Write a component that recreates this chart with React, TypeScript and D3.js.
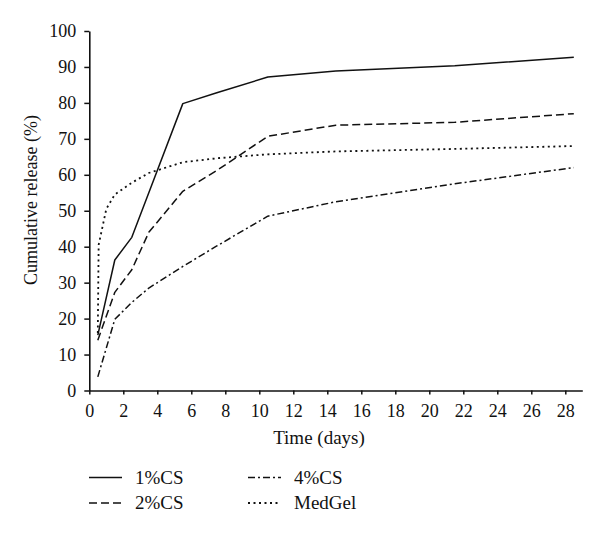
import React, { useEffect, useRef } from "react";
import * as d3 from "d3";

const days = [0.5, 1.5, 2.5, 3.5, 5.5, 7.5, 10.5, 14.5, 21.5, 28.5];
const cs1 = [15.4, 36.3, 42.6, 55.0, 79.8, 82.8, 87.2, 88.9, 90.3, 92.7];
const cs2 = [14.0, 27.3, 33.6, 44.0, 55.4, 61.2, 70.7, 73.8, 74.6, 77.0];
const cs4 = [3.8, 19.8, 24.5, 28.5, 34.5, 40.2, 48.5, 52.5, 57.5, 62.0];
const medDays = [0.5, 0.55, 1.0, 1.5, 2.5, 3.5, 5.5, 7.5, 10.5, 14.5, 21.5, 28.5];
const medGel = [16.0, 40.5, 50.5, 54.5, 57.8, 60.5, 63.5, 64.6, 65.7, 66.5, 67.2, 68.0];

const xTicks = d3.range(0, 29, 2);
const yTicks = d3.range(0, 101, 10);
const seriesNames = ["1%CS", "2%CS", "4%CS", "MedGel"];
const dashes = ["none", "8,4", "7,3,2,3", "2,3.5"];

const FONT = "'Liberation Serif', 'DejaVu Serif', serif";

export default function App() {
  const ref = useRef<SVGSVGElement>(null);

  useEffect(() => {
    const svg = d3.select(ref.current);
    svg.selectAll("*").remove();

    const x = d3.scaleLinear().domain([0, 29]).range([89.3, 582.3]);
    const y = d3.scaleLinear().domain([0, 100]).range([390.5, 31]);

    const gx = svg.append("g").attr("transform", `translate(0,${y(0)})`);
    gx.call(d3.axisBottom(x).tickValues(xTicks).tickSize(4).tickPadding(10).tickSizeOuter(0));
    const gy = svg.append("g").attr("transform", `translate(${x(0)},0)`);
    gy.call(d3.axisLeft(y).tickValues(yTicks).tickSize(5).tickPadding(8).tickSizeOuter(0));

    for (const g of [gx, gy]) {
      g.selectAll("path.domain").attr("stroke", "#111").attr("stroke-width", 1.6);
      g.selectAll(".tick line").attr("stroke", "#111").attr("stroke-width", 1.5);
      g.selectAll(".tick text")
        .attr("fill", "#111")
        .style("font-family", FONT)
        .style("font-size", "18px");
    }

    svg.append("text")
      .attr("x", 319)
      .attr("y", 444)
      .attr("text-anchor", "middle")
      .attr("fill", "#111")
      .style("font-family", FONT)
      .style("font-size", "19px")
      .text("Time (days)");

    svg.append("text")
      .attr("transform", `translate(37,200) rotate(-90)`)
      .attr("text-anchor", "middle")
      .attr("fill", "#111")
      .style("font-family", FONT)
      .style("font-size", "18px")
      .text("Cumulative release (%)");

    const line = d3.line<[number, number]>()
      .x((d) => x(d[0]))
      .y((d) => y(d[1]));

    const data: [number, number][][] = [
      days.map((d, i) => [d, cs1[i]] as [number, number]),
      days.map((d, i) => [d, cs2[i]] as [number, number]),
      days.map((d, i) => [d, cs4[i]] as [number, number]),
      medDays.map((d, i) => [d, medGel[i]] as [number, number]),
    ];

    data.forEach((pts, i) => {
      svg.append("path")
        .attr("d", line(pts) as string)
        .attr("fill", "none")
        .attr("stroke", "#111")
        .attr("stroke-width", i === 3 ? 1.8 : 1.5)
        .attr("stroke-dasharray", dashes[i])
        .attr("stroke-linejoin", "round");
    });

    const legX = [89, 248];
    const legY = [477.5, 503];
    seriesNames.forEach((name, i) => {
      const col = Math.floor(i / 2);
      const row = i % 2;
      const g = svg.append("g");
      g.append("line")
        .attr("x1", legX[col])
        .attr("x2", legX[col] + 33)
        .attr("y1", legY[row])
        .attr("y2", legY[row])
        .attr("stroke", "#111")
        .attr("stroke-width", i === 3 ? 1.8 : 1.5)
        .attr("stroke-dasharray", dashes[i]);
      g.append("text")
        .attr("x", legX[col] + 46)
        .attr("y", legY[row] + 6)
        .attr("fill", "#111")
        .style("font-family", FONT)
        .style("font-size", "19px")
        .text(name);
    });
  }, []);

  return (
    <svg
      ref={ref}
      width={600}
      height={536}
      style={{ position: "absolute", left: 0, top: 0, background: "#fff" }}
    />
  );
}
